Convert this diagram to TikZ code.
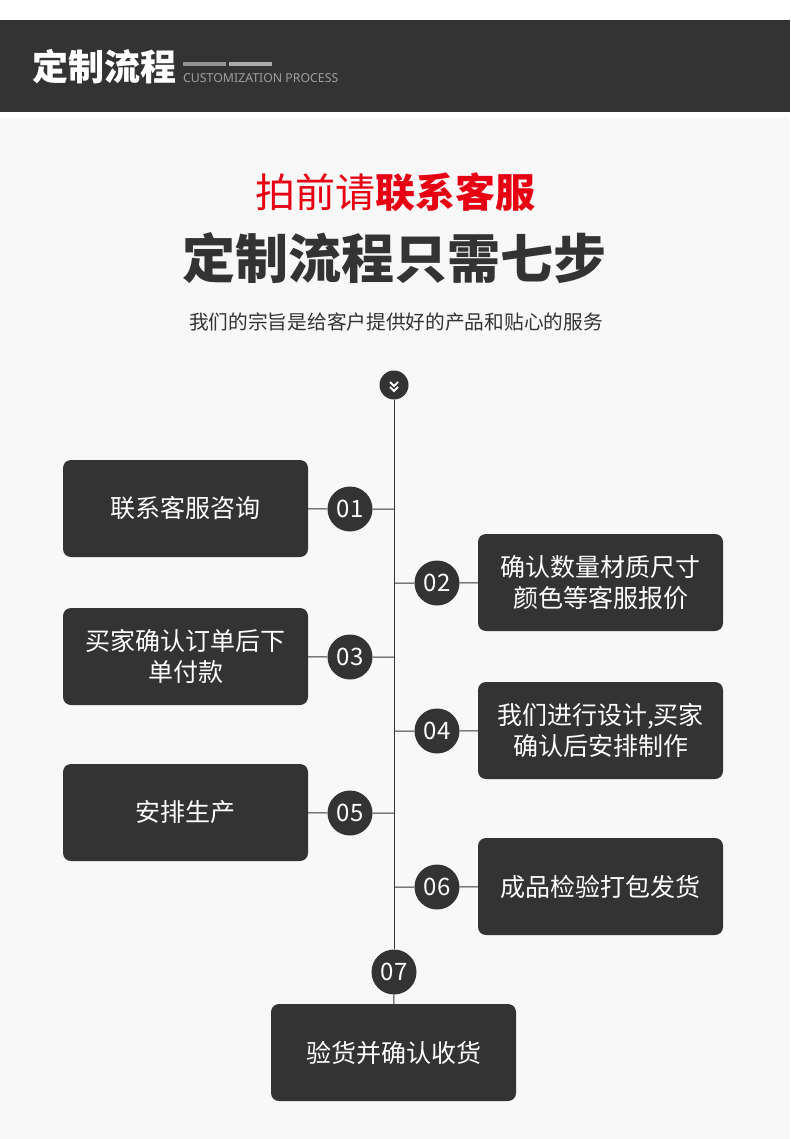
\documentclass[tikz,border=0pt]{standalone}
\usepackage{fontspec}
\setmainfont{Noto Sans CJK SC}
\newfontfamily\latinfont{Noto Sans}

\definecolor{bandgray}{HTML}{333333}
\definecolor{boxgray}{HTML}{333333}
\definecolor{pagegray}{HTML}{F8F8F8}
\definecolor{titlered}{HTML}{E60012}

\begin{document}
\begin{tikzpicture}[
    x=1pt, y=-1pt,
    stepbox/.style={
        fill=boxgray,
        text=white,
        minimum width=245pt,
        minimum height=97pt,
        align=center,
        font=\fontsize{25}{31}\selectfont,
        rounded corners=8pt
    },
    numcircle/.style={
        circle,
        fill=boxgray,
        text=white,
        minimum size=45pt,
        inner sep=0pt,
        font=\fontsize{24}{24}\selectfont
    },
    spine/.style={
        draw=boxgray,
        line width=1pt
    }
]

    % ==========================================
    % BACKGROUND AND HEADER
    % ==========================================
    \useasboundingbox (0,0) rectangle (790,1139);
    \fill[white] (0,0) rectangle (790,1139);
    \fill[bandgray] (0,20) rectangle (790,112);
    \fill[pagegray] (0,118) rectangle (790,1139);

    \node[anchor=west, inner sep=0pt, text=white, font=\fontsize{36}{36}\selectfont\bfseries] (Header) at (32,67) {定制流程};
    \fill[gray!85] (183,62) rectangle (226,66);
    \fill[gray!65] (229,62) rectangle (272,66);
    \node[anchor=west, inner sep=0pt, text=gray!75, font=\latinfont\fontsize{12.3}{12.3}\selectfont] (HeaderSub) at (183,78.5) {CUSTOMIZATION PROCESS};

    % ==========================================
    % TITLES
    % ==========================================
    \node[text=titlered, font=\fontsize{40}{40}\selectfont] (Slogan) at (395,192) {拍前请\textbf{联系客服}};
    \node[text=bandgray, font=\fontsize{53}{53}\selectfont\bfseries] (Title) at (394,258) {定制流程只需七步};
    \node[text=bandgray, font=\fontsize{19.7}{19.7}\selectfont] (Motto) at (396,322) {我们的宗旨是给客户提供好的产品和贴心的服务};

    % ==========================================
    % STEPS
    % ==========================================
    \node[circle, fill=boxgray, minimum size=29pt, inner sep=0pt] (Chev) at (394,385) {};
    \draw[white, line width=1.8pt] ([shift={(-4,-3)}]Chev.center) -- ++(4,4) -- ++(4,-4);
    \draw[white, line width=1.8pt] ([shift={(-4,2)}]Chev.center) -- ++(4,4) -- ++(4,-4);

    % Left column
    \node[stepbox] (Step1) at (185.5,508.5) {联系客服咨询};
    \node[stepbox] (Step3) at (185.5,656.5) {买家确认订单后下\\单付款};
    \node[stepbox] (Step5) at (185.5,812.5) {安排生产};

    % Right column
    \node[stepbox] (Step2) at (600.5,582.5) {确认数量材质尺寸\\颜色等客服报价};
    \node[stepbox] (Step4) at (600.5,730.5) {我们进行设计,买家\\确认后安排制作};
    \node[stepbox] (Step6) at (600.5,886.5) {成品检验打包发货};

    % Bottom
    \node[stepbox] (Step7) at (393.5,1052.5) {验货并确认收货};

    % Numbers
    \node[numcircle] (Num1) at (350,509) {01};
    \node[numcircle] (Num2) at (437,583) {02};
    \node[numcircle] (Num3) at (350,657) {03};
    \node[numcircle] (Num4) at (437,731) {04};
    \node[numcircle] (Num5) at (350,813) {05};
    \node[numcircle] (Num6) at (437,887) {06};
    \node[numcircle] (Num7) at (394,972) {07};

    % ==========================================
    % CONNECTIONS
    % ==========================================
    \draw[spine] (Chev) -- (Num7);
    \draw[spine] (Num7) -- (Step7);

    \draw[spine] (Step1) -- (Num1) -- (Num1 -| Chev);
    \draw[spine] (Step2) -- (Num2) -- (Num2 -| Chev);
    \draw[spine] (Step3) -- (Num3) -- (Num3 -| Chev);
    \draw[spine] (Step4) -- (Num4) -- (Num4 -| Chev);
    \draw[spine] (Step5) -- (Num5) -- (Num5 -| Chev);
    \draw[spine] (Step6) -- (Num6) -- (Num6 -| Chev);

\end{tikzpicture}
\end{document}
